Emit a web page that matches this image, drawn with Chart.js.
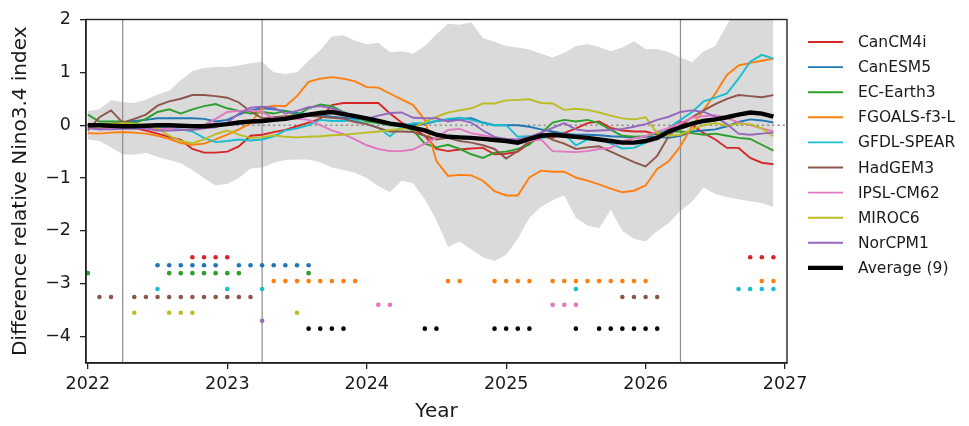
<!DOCTYPE html>
<html>
<head>
<meta charset="utf-8">
<script src="https://cdn.jsdelivr.net/npm/chart.js@4.4.1/dist/chart.umd.min.js"></script>
<style>
  html, body { margin: 0; padding: 0; background: #fff; }
  #wrap { width: 969px; height: 426px; }
</style>
</head>
<body>
<div id="wrap"><canvas id="chart" width="969" height="426"></canvas></div>
<script>
// monthly values, Jan 2022 (k = 0) .. Dec 2026 (k = 59)
const startYear = 2022;
const nMonths = 60;

const models = ['CanCM4i', 'CanESM5', 'EC-Earth3', 'FGOALS-f3-L', 'GFDL-SPEAR',
                'HadGEM3', 'IPSL-CM62', 'MIROC6', 'NorCPM1'];
const colors = ['#d62728', '#1f77b4', '#2ca02c', '#ff7f0e', '#17becf',
                '#8c564b', '#e377c2', '#bcbd22', '#9467bd'];

const canCM4i = [-0.05, -0.07, -0.05, -0.03, -0.05, -0.1, -0.16, -0.22, -0.28, -0.45, -0.52, -0.52,
  -0.5, -0.4, -0.2, -0.18, -0.13, -0.09, -0.02, 0.05, 0.12, 0.38, 0.42, 0.42,
  0.42, 0.42, 0.22, 0.05, -0.06, -0.2, -0.45, -0.49, -0.46, -0.44, -0.43, -0.55,
  -0.54, -0.5, -0.34, -0.22, -0.24, -0.15, -0.06, 0.04, 0.07, -0.05, -0.1, -0.12,
  -0.12, -0.18, -0.09, 0.07, 0.0, -0.15, -0.27, -0.43, -0.43, -0.62, -0.71, -0.74];
const canESM5 = [0.0, 0.02, 0.03, 0.05, 0.08, 0.1, 0.13, 0.13, 0.13, 0.13, 0.12, 0.07,
  0.1, 0.2, 0.28, 0.32, 0.3, 0.27, 0.23, 0.21, 0.19, 0.16, 0.14, 0.12,
  0.1, 0.06, 0.03, 0.02, 0.0, 0.02, 0.08, 0.1, 0.12, 0.13, 0.05, 0.0,
  0.0, 0.0, -0.03, -0.08, -0.12, -0.16, -0.18, -0.18, -0.19, -0.21, -0.22, -0.24,
  -0.22, -0.22, -0.24, -0.2, -0.12, -0.1, -0.08, -0.02, 0.06, 0.11, 0.09, 0.05];
const ecEarth3 = [0.2, 0.07, 0.07, 0.07, 0.04, 0.12, 0.25, 0.3, 0.22, 0.3, 0.36, 0.4,
  0.32, 0.27, 0.22, 0.25, 0.22, 0.27, 0.19, 0.32, 0.39, 0.36, 0.25, 0.16,
  0.07, 0.04, 0.0, -0.02, -0.1, -0.35, -0.42, -0.37, -0.45, -0.55, -0.62, -0.52,
  -0.5, -0.45, -0.37, -0.15, 0.05, 0.1, 0.07, 0.1, 0.04, -0.09, -0.2, -0.22,
  -0.21, -0.15, -0.12, -0.12, -0.15, -0.18, -0.16, -0.2, -0.24, -0.26, -0.37, -0.48];
const fgoals = [-0.15, -0.16, -0.14, -0.13, -0.14, -0.16, -0.2, -0.26, -0.34, -0.37, -0.35, -0.27,
  -0.18, -0.08, 0.03, 0.33, 0.37, 0.36, 0.55, 0.82, 0.88, 0.91, 0.88, 0.83,
  0.72, 0.71, 0.6, 0.49, 0.38, 0.1, -0.68, -0.96, -0.94, -0.95, -1.05, -1.25,
  -1.33, -1.33, -0.99, -0.86, -0.88, -0.88, -0.99, -1.05, -1.12, -1.2, -1.27, -1.24,
  -1.14, -0.83, -0.68, -0.4, -0.02, 0.29, 0.6, 0.95, 1.13, 1.18, 1.22, 1.26];
const gfdlSpear = [0.02, 0.0, -0.02, -0.03, -0.03, -0.02, -0.04, -0.05, -0.08, -0.12, -0.24, -0.32,
  -0.3, -0.27, -0.29, -0.27, -0.21, -0.1, -0.06, 0.0, 0.1, 0.08, 0.08, 0.1,
  0.02, -0.05, -0.21, -0.02, 0.04, 0.04, 0.08, 0.12, 0.14, 0.1, 0.04, 0.0,
  0.0, -0.22, -0.21, -0.25, -0.2, -0.17, -0.38, -0.27, -0.27, -0.35, -0.44, -0.43,
  -0.33, -0.22, -0.05, 0.1, 0.25, 0.45, 0.52, 0.6, 0.88, 1.2, 1.33, 1.26];
const hadGEM3 = [-0.1, 0.15, 0.28, 0.05, 0.12, 0.2, 0.37, 0.45, 0.5, 0.57, 0.57, 0.55,
  0.52, 0.43, 0.26, 0.13, 0.15, 0.17, 0.19, 0.18, 0.16, 0.14, 0.12, 0.06,
  0.02, -0.05, -0.12, -0.12, -0.13, -0.2, -0.27, -0.24, -0.3, -0.33, -0.38, -0.45,
  -0.63, -0.49, -0.3, -0.15, -0.28, -0.35, -0.45, -0.42, -0.4, -0.5, -0.6, -0.7,
  -0.78, -0.58, -0.2, 0.0, 0.15, 0.28, 0.4, 0.5, 0.57, 0.55, 0.53, 0.57];
const ipslCM62 = [-0.05, -0.08, -0.06, -0.03, -0.04, -0.06, -0.08, -0.06, -0.04, -0.03, 0.0, 0.12,
  0.25, 0.27, 0.28, 0.25, 0.13, 0.14, 0.12, 0.1, 0.0, -0.1, -0.17, -0.27,
  -0.38, -0.45, -0.49, -0.49, -0.46, -0.35, -0.24, -0.09, -0.07, -0.15, -0.19, -0.23,
  -0.3, -0.34, -0.3, -0.27, -0.49, -0.5, -0.51, -0.49, -0.45, -0.43, -0.3, -0.25,
  -0.21, -0.12, -0.05, 0.04, 0.14, 0.17, 0.19, 0.14, 0.05, 0.0, -0.06, -0.12];
const miroc6 = [0.0, 0.02, 0.03, 0.04, 0.03, 0.0, -0.06, -0.2, -0.3, -0.34, -0.27, -0.17,
  -0.1, -0.18, -0.24, -0.23, -0.19, -0.22, -0.23, -0.22, -0.21, -0.19, -0.18, -0.16,
  -0.14, -0.12, -0.09, -0.07, -0.05, 0.06, 0.16, 0.24, 0.28, 0.32, 0.41, 0.41,
  0.47, 0.48, 0.49, 0.42, 0.41, 0.29, 0.31, 0.29, 0.24, 0.18, 0.13, 0.11,
  0.15, -0.15, -0.2, -0.18, -0.08, 0.0, 0.04, -0.01, 0.03, 0.02, -0.06, -0.21];
const norCPM1 = [-0.05, -0.08, -0.08, -0.07, -0.07, -0.06, -0.1, -0.1, -0.09, -0.09, -0.06, -0.04,
  0.05, 0.22, 0.33, 0.35, 0.33, 0.22, 0.27, 0.34, 0.36, 0.32, 0.24, 0.18,
  0.12, 0.18, 0.23, 0.24, 0.14, 0.13, 0.13, 0.07, 0.1, 0.05, -0.1, -0.22,
  -0.26, -0.27, -0.22, -0.14, -0.05, 0.04, -0.08, -0.11, -0.1, -0.09, -0.07, -0.03,
  0.02, 0.1, 0.16, 0.25, 0.28, 0.25, 0.16, 0.02, -0.16, -0.18, -0.16, -0.14];
const average = [0.0, 0.0, -0.01, -0.02, -0.02, -0.01, 0.0, 0.0, -0.01, -0.02, -0.02, 0.0,
  0.02, 0.05, 0.07, 0.08, 0.1, 0.12, 0.16, 0.2, 0.23, 0.25, 0.21, 0.17,
  0.13, 0.08, 0.03, 0.0, -0.05, -0.1, -0.18, -0.22, -0.23, -0.24, -0.26, -0.28,
  -0.3, -0.33, -0.26, -0.2, -0.18, -0.2, -0.22, -0.24, -0.27, -0.3, -0.33, -0.33,
  -0.3, -0.24, -0.12, -0.04, 0.03, 0.08, 0.11, 0.15, 0.2, 0.24, 0.22, 0.16];

// grey ensemble spread
const spreadUpper = [0.27, 0.3, 0.47, 0.44, 0.42, 0.48, 0.58, 0.65, 0.85, 1.02, 1.08, 1.1,
  1.1, 1.13, 1.17, 1.2, 1.0, 0.97, 1.0, 1.22, 1.42, 1.68, 1.7, 1.6,
  1.53, 1.56, 1.38, 1.4, 1.35, 1.5, 1.72, 1.92, 1.9, 1.95, 1.65, 1.58,
  1.5, 1.47, 1.43, 1.35, 1.28, 1.37, 1.5, 1.53, 1.48, 1.4, 1.47, 1.59,
  1.44, 1.44, 1.38, 1.28, 1.19, 1.4, 1.5, 1.9, 2.3, 2.4, 2.4, 2.4];
const spreadLower = [-0.27, -0.3, -0.42, -0.55, -0.56, -0.52, -0.6, -0.66, -0.72, -0.85, -1.0, -1.14,
  -1.11, -1.0, -0.82, -0.8, -0.71, -0.66, -0.65, -0.65, -0.7, -0.8, -0.85, -0.9,
  -1.0, -1.15, -1.27, -1.05, -1.1, -1.4, -1.8, -2.3, -2.2, -2.35, -2.5, -2.57,
  -2.45, -2.15, -1.75, -1.55, -1.42, -1.33, -1.75, -1.9, -1.95, -1.6, -2.0, -2.15,
  -2.2, -2.0, -1.85, -1.62, -1.45, -1.18, -1.3, -1.36, -1.4, -1.44, -1.47, -1.55];

// months (k) flagged by the dot rows under the curves
const dotsCanCM4i = [9, 10, 11, 12, 57, 58, 59];
const dotsCanESM5 = [6, 7, 8, 9, 10, 11, 13, 14, 15, 16, 17, 18, 19];
const dotsECEarth3 = [0, 7, 8, 9, 10, 11, 12, 13, 19];
const dotsFGOALS = [16, 17, 18, 19, 20, 21, 22, 23, 31, 32, 35, 36, 37, 38,
                    40, 41, 42, 43, 44, 45, 46, 47, 48, 58, 59];
const dotsGFDL = [6, 12, 15, 42, 56, 57, 58, 59];
const dotsHadGEM3 = [1, 2, 4, 5, 6, 7, 8, 9, 10, 11, 12, 13, 14, 46, 47, 48, 49];
const dotsIPSL = [25, 26, 40, 41, 42];
const dotsMIROC6 = [4, 7, 8, 9, 18];
const dotsNorCPM1 = [15];
const dotsAverage = [19, 20, 21, 22, 29, 30, 35, 36, 37, 38, 42, 44, 45, 46, 47, 48, 49];
const dotLevels = [-2.5, -2.65, -2.8, -2.95, -3.1, -3.25, -3.4, -3.55, -3.7, -3.85];

const initYears = [2022.25, 2023.25, 2026.25];
const xTicks = [2022, 2023, 2024, 2025, 2026, 2027];
const yTicks = [-4, -3, -2, -1, 0, 1, 2];
const xMin = 2021.987, xMax = 2027.014, yMin = -4.5, yMax = 2;

const seriesData = [canCM4i, canESM5, ecEarth3, fgoals, gfdlSpear, hadGEM3, ipslCM62, miroc6, norCPM1];
const dotData = [dotsCanCM4i, dotsCanESM5, dotsECEarth3, dotsFGOALS, dotsGFDL,
                 dotsHadGEM3, dotsIPSL, dotsMIROC6, dotsNorCPM1, dotsAverage];

const monthX = k => startYear + k / 12;
const toPoints = arr => arr.map((v, k) => ({ x: monthX(k), y: v }));

Chart.defaults.font.family = "'DejaVu Sans', sans-serif";
Chart.defaults.color = '#000';

const datasets = [];

// spread band (upper fills down to the lower one)
datasets.push({ label: 'spreadUpper', data: toPoints(spreadUpper), borderWidth: 0, pointRadius: 0,
  backgroundColor: '#dadada', fill: '+1', order: 100 });
datasets.push({ label: 'spreadLower', data: toPoints(spreadLower), borderWidth: 0, pointRadius: 0,
  fill: false, order: 101 });

// reference lines
datasets.push({ label: 'zero', data: [{ x: xMin, y: 0 }, { x: xMax, y: 0 }], borderColor: '#8a8a8a',
  borderWidth: 1.6, borderDash: [2, 3.2], pointRadius: 0, fill: false, order: 90 });
initYears.forEach(t => {
  datasets.push({ label: 'init', data: [{ x: t, y: yMin }, { x: t, y: yMax }], borderColor: '#8c8c8c',
    borderWidth: 1.2, pointRadius: 0, fill: false, order: 91 });
});

// model lines
models.forEach((m, i) => {
  datasets.push({ label: m, data: toPoints(seriesData[i]), borderColor: colors[i], borderWidth: 1.9,
    pointRadius: 0, fill: false, order: 30 - i, legend: true });
});
datasets.push({ label: 'Average (9)', data: toPoints(average), borderColor: '#000', borderWidth: 4.4,
  pointRadius: 0, fill: false, order: 5, legend: true });

// dot rows
dotData.forEach((ks, i) => {
  const c = i < colors.length ? colors[i] : '#000';
  datasets.push({ label: 'dots', data: ks.map(k => ({ x: monthX(k), y: dotLevels[i] })),
    showLine: false, pointRadius: 2.3, pointBackgroundColor: c, pointBorderWidth: 0,
    borderColor: c, order: 1 });
});

// box around plot + legend on the right
const framePlugin = {
  id: 'frame',
  afterDatasetsDraw(chart) {
    const { ctx, chartArea: a } = chart;
    ctx.save();
    ctx.strokeStyle = '#222';
    ctx.lineWidth = 1.4;
    ctx.strokeRect(a.left, a.top, a.right - a.left, a.bottom - a.top);
    ctx.restore();
  },
  afterDraw(chart) {
    const ctx = chart.ctx;
    const items = chart.data.datasets.filter(d => d.legend);
    ctx.save();
    ctx.font = "15.5px 'DejaVu Sans'";
    ctx.textBaseline = 'middle';
    ctx.fillStyle = '#1a1a1a';
    items.forEach((d, i) => {
      const y = 42 + i * 25.1;
      ctx.strokeStyle = d.borderColor;
      ctx.lineWidth = d.borderWidth;
      ctx.beginPath();
      ctx.moveTo(808, y);
      ctx.lineTo(843, y);
      ctx.stroke();
      ctx.fillText(d.label, 858, y + 1);
    });
    ctx.restore();
  }
};

new Chart(document.getElementById('chart'), {
  type: 'line',
  data: { datasets },
  options: {
    responsive: false,
    animation: false,
    devicePixelRatio: 1,
    layout: { padding: { top: 15, right: 182, left: 0, bottom: 0 } },
    plugins: {
      legend: { display: false },
      tooltip: { enabled: false },
      filler: { drawTime: 'beforeDatasetsDraw' }
    },
    scales: {
      x: {
        type: 'linear', min: xMin, max: xMax,
        afterBuildTicks: s => { s.ticks = xTicks.map(v => ({ value: v })); },
        afterFit: s => { s.height = 63; },
        ticks: { callback: v => String(v), font: { size: 17.5 }, color: '#1a1a1a', padding: 5, maxRotation: 0, autoSkip: false },
        grid: { drawOnChartArea: false, tickLength: 6, color: '#222', lineWidth: 1.3 },
        border: { color: '#222', width: 1.4 },
        title: { display: true, text: 'Year', font: { size: 20 }, color: '#1a1a1a', padding: { top: 0, bottom: 2 } }
      },
      y: {
        min: yMin, max: yMax,
        afterBuildTicks: s => { s.ticks = yTicks.map(v => ({ value: v })); },
        afterFit: s => { s.width = 86; },
        ticks: { callback: v => (v < 0 ? '\u2212' + Math.abs(v) : String(v)), font: { size: 17.5 }, color: '#1a1a1a', padding: 9 },
        grid: { drawOnChartArea: false, tickLength: 6, color: '#222', lineWidth: 1.3 },
        border: { color: '#222', width: 1.4 },
        title: { display: true, text: 'Difference relative Nino3.4 index', font: { size: 20 }, color: '#1a1a1a', padding: { top: 9, bottom: 0 } }
      }
    }
  },
  plugins: [framePlugin]
});
</script>
</body>
</html>
